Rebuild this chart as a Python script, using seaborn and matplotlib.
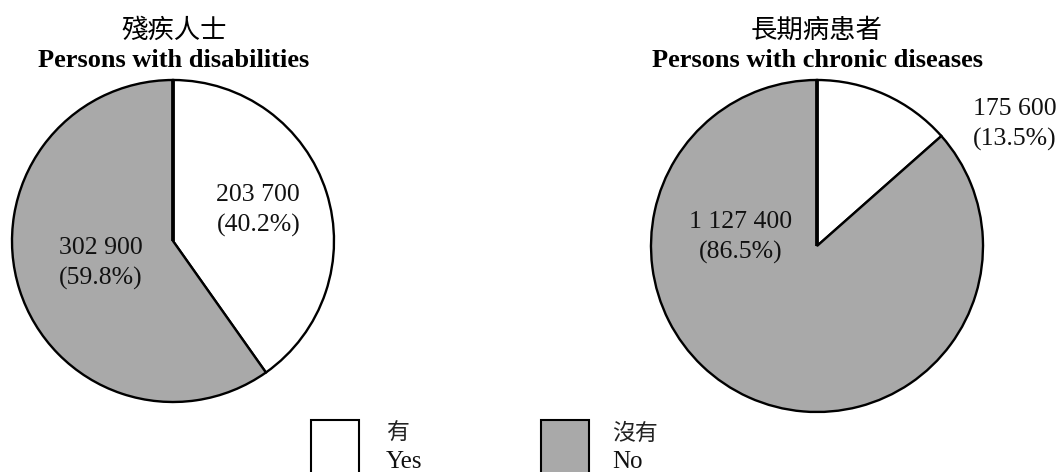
import numpy as np
import seaborn as sns
import matplotlib.pyplot as plt
from matplotlib.patches import Rectangle

## Data
groups_zh = ["殘疾人士", "長期病患者"]
groups_en = ["Persons with disabilities", "Persons with chronic diseases"]
answers_zh = ["有", "沒有"]
answers_en = ["Yes", "No"]
disab_counts = [203700, 302900]
disab_pcts = [40.2, 59.8]
chronic_counts = [175600, 1127400]
chronic_pcts = [13.5, 86.5]

sns.set_theme(style="white")
plt.rcParams['font.family'] = ['Liberation Serif', 'Noto Sans CJK TC']
colors = ["white", "#a9a9a9"]

W, H = 1059, 472
fig = plt.figure(figsize=(W / 100, H / 100), dpi=100)


def fmt(n):
    return f"{n:,}".replace(",", " ")


def pie_axes(cx, cy, r):
    # centre / radius given in pixels from top-left
    return fig.add_axes([(cx - r) / W, (H - cy - r) / H, 2 * r / W, 2 * r / H])


# label positions inside each pie (data coords, radius = 1)
label_pos = [
    [(0.53, 0.19), (-0.45, -0.14)],
    [(1.19, 0.73), (-0.46, 0.05)],
]
pies = [(173, 241, 161), (817, 246, 166)]
title_x = [174, 817]

for i, (counts, pcts) in enumerate([(disab_counts, disab_pcts),
                                    (chronic_counts, chronic_pcts)]):
    ax = pie_axes(*pies[i])
    wedges, _ = ax.pie(counts, colors=colors, startangle=90, counterclock=False,
                       wedgeprops=dict(edgecolor="black", linewidth=1.7))
    for w in wedges:
        w.set_clip_on(False)
    # heavier vertical radius at 12 o'clock
    ax.plot([0, 0], [0, 1], color="black", lw=2.7, solid_capstyle="butt", clip_on=False)
    ax.set_xlim(-1, 1)
    ax.set_ylim(-1, 1)
    for (x, y), c, p in zip(label_pos[i], counts, pcts):
        ax.text(x, y, f"{fmt(c)}\n({p}%)", ha="center", va="center",
                fontsize=18.5, color="#111111", linespacing=1.45)

    fig.text(title_x[i] / W, 1 - 31 / H, groups_zh[i], ha="center", va="center",
             fontsize=19, color="black")
    fig.text(title_x[i] / W, 1 - 67 / H, groups_en[i], ha="center", va="baseline",
             fontsize=19, fontweight="bold", color="black")

# legend boxes at the bottom
box_x = [311, 541]
text_x = [386, 612]
for bx, tx, c, zh, en in zip(box_x, text_x, colors, answers_zh, answers_en):
    fig.add_artist(Rectangle((bx / W, -0.05), 48 / W, (H - 420) / H + 0.05,
                             transform=fig.transFigure, facecolor=c,
                             edgecolor="black", linewidth=1.5, clip_on=False))
    fig.text(tx / W, 1 - 434 / H, zh, ha="left", va="center", fontsize=16.5,
             fontweight="light", color="#222222")
    fig.text(tx / W, 1 - 462 / H, en, ha="left", va="center", fontsize=18,
             color="#111111")

fig.savefig("out.png", dpi=100)
